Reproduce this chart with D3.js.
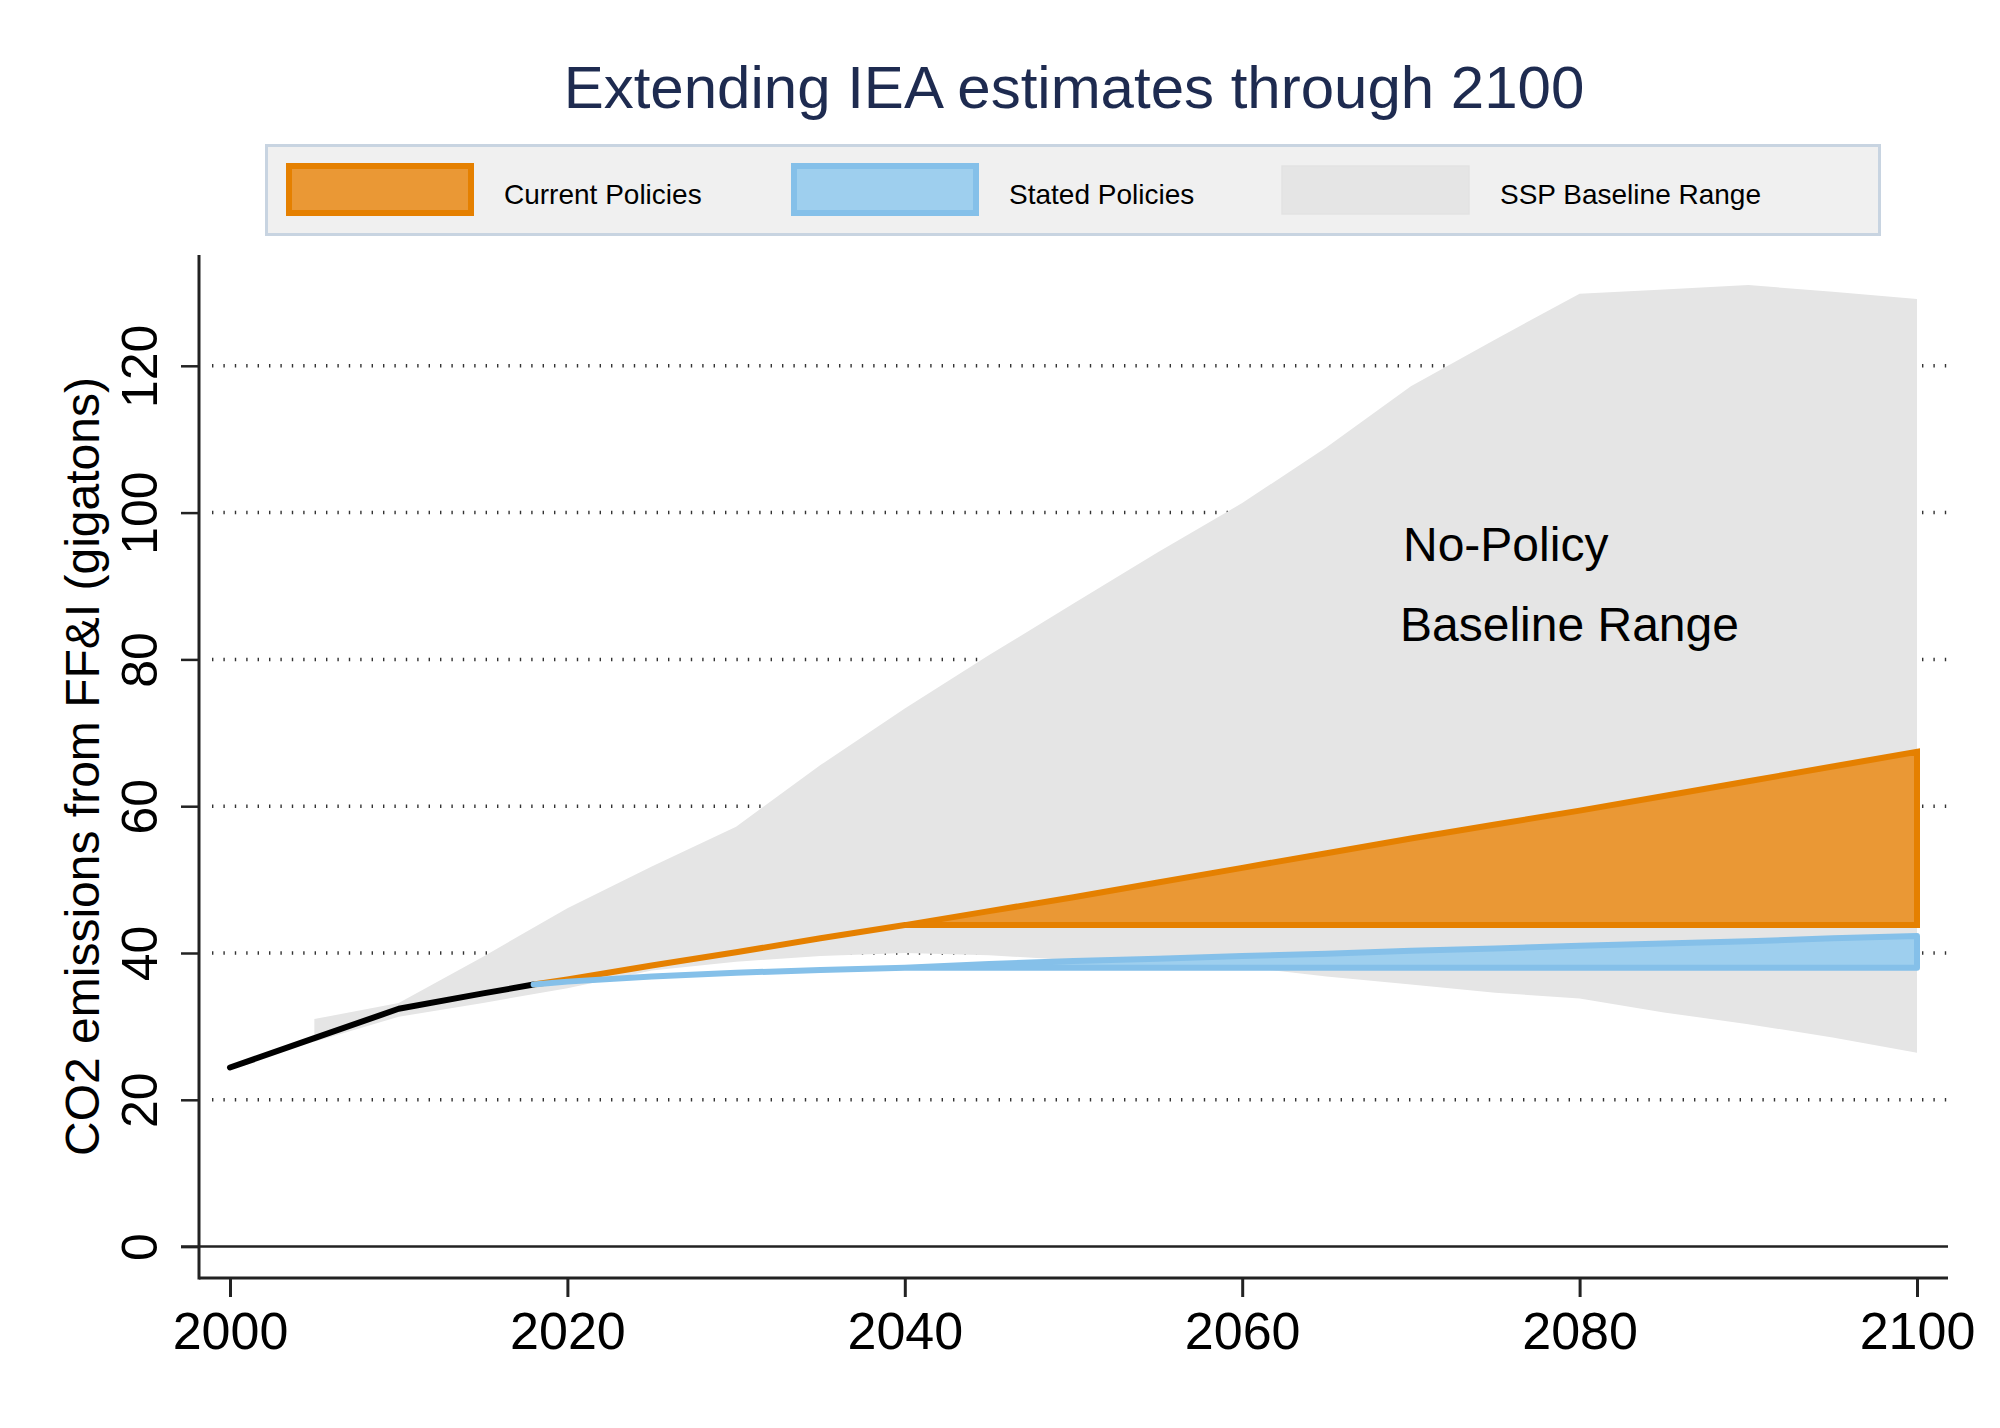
<!DOCTYPE html>
<html>
<head>
<meta charset="utf-8">
<script src="https://cdn.jsdelivr.net/npm/d3@7"></script>
<style>
  body { margin: 0; background: #fff; }
  text { font-family: "Liberation Sans", Arial, Helvetica, sans-serif; }
</style>
</head>
<body>
<script>
// data
var histYears = [2000, 2005, 2010, 2015, 2018];
var histValues = [24.4, 28.4, 32.4, 34.5, 35.7];

var projYears = [2018, 2020, 2025, 2030, 2035, 2040, 2045, 2050, 2055, 2060, 2065, 2070, 2075, 2080, 2085, 2090, 2095, 2100];
var currentHigh = [35.7, 36.4, 38.3, 40.1, 42.0, 43.8, 45.7, 47.6, 49.6, 51.6, 53.6, 55.6, 57.5, 59.4, 61.4, 63.4, 65.4, 67.4];
var currentLow = [35.7, 36.4, 38.3, 40.1, 42.0, 43.8, 43.8, 43.8, 43.8, 43.8, 43.8, 43.8, 43.8, 43.8, 43.8, 43.8, 43.8, 43.8];
var statedHigh = [35.7, 36.1, 36.8, 37.3, 37.7, 38.0, 38.5, 38.9, 39.2, 39.6, 39.9, 40.3, 40.6, 41.0, 41.3, 41.6, 42.0, 42.3];
var statedLow = [35.7, 36.1, 36.8, 37.3, 37.7, 38.0, 38.0, 38.0, 38.0, 38.0, 38.0, 38.0, 38.0, 38.0, 38.0, 38.0, 38.0, 38.0];

var sspYears = [2005, 2010, 2015, 2020, 2025, 2030, 2035, 2040, 2045, 2050, 2055, 2060, 2065, 2070, 2075, 2080, 2085, 2090, 2095, 2100];
var sspHigh = [31.0, 33.2, 39.5, 46.1, 51.8, 57.2, 65.6, 73.3, 80.6, 87.6, 94.6, 101.3, 108.9, 117.2, 123.6, 129.8, 130.4, 131.0, 130.1, 129.1];
var sspLow = [27.9, 31.3, 33.2, 35.2, 37.6, 38.8, 39.6, 40.0, 39.7, 39.0, 38.6, 38.1, 36.8, 35.7, 34.6, 33.8, 31.9, 30.3, 28.5, 26.4];

var xTicks = [2000, 2020, 2040, 2060, 2080, 2100];
var yTicks = [0, 20, 40, 60, 80, 100, 120];

var legendItems = [
  {label: 'Current Policies', fill: '#ea9835', stroke: '#e58000'},
  {label: 'Stated Policies', fill: '#9ecfee', stroke: '#85c0e9'},
  {label: 'SSP Baseline Range', fill: '#e5e5e5', stroke: '#e2e2e2'}
];

var options = {
  width: 2000,
  height: 1428,
  axisLeft: 199,
  axisRight: 1948,
  axisTop: 255,
  axisBottom: 1278
};

var svg = d3.select('body')
  .append('svg')
  .attr('width', options.width)
  .attr('height', options.height);

var x = d3.scaleLinear().domain([2000, 2100]).range([230, 1917]);
var y = d3.scaleLinear().domain([0, 120]).range([1246.6, 365.8]);

// dotted gridlines
svg.append('g')
  .selectAll('line')
  .data(yTicks.filter(function(d) { return d > 0; }))
  .enter()
    .append('line')
    .attr('x1', 212)
    .attr('x2', options.axisRight)
    .attr('y1', function(d) { return y(d); })
    .attr('y2', function(d) { return y(d); })
    .attr('stroke', '#333')
    .attr('stroke-width', 3.5)
    .attr('stroke-dasharray', '1.4 10');

// SSP range
var zip = function(years) {
  return function(d, i) { return i; };
};

var sspArea = d3.area()
  .x(function(d) { return x(sspYears[d]); })
  .y0(function(d) { return y(sspLow[d]); })
  .y1(function(d) { return y(sspHigh[d]); });

svg.append('path')
  .attr('d', sspArea(d3.range(sspYears.length)))
  .attr('fill', '#e5e5e5');

// zero line
svg.append('line')
  .attr('x1', 181).attr('x2', options.axisRight)
  .attr('y1', y(0)).attr('y2', y(0))
  .attr('stroke', '#222')
  .attr('stroke-width', 2.5);

// historic emissions
var histLine = d3.line()
  .x(function(d) { return x(histYears[d]); })
  .y(function(d) { return y(histValues[d]); });

svg.append('path')
  .attr('d', histLine(d3.range(histYears.length)))
  .attr('fill', 'none')
  .attr('stroke', '#000')
  .attr('stroke-width', 6)
  .attr('stroke-linecap', 'round')
  .attr('stroke-linejoin', 'round');

// current policies band
var currentArea = d3.area()
  .x(function(d) { return x(projYears[d]); })
  .y0(function(d) { return y(currentLow[d]); })
  .y1(function(d) { return y(currentHigh[d]); });

svg.append('path')
  .attr('d', currentArea(d3.range(projYears.length)) + 'Z')
  .attr('fill', '#ea9835')
  .attr('stroke', '#e58000')
  .attr('stroke-width', 6)
  .attr('stroke-linejoin', 'miter');

// stated policies band
var statedArea = d3.area()
  .x(function(d) { return x(projYears[d]); })
  .y0(function(d) { return y(statedLow[d]); })
  .y1(function(d) { return y(statedHigh[d]); });

svg.append('path')
  .attr('d', statedArea(d3.range(projYears.length)) + 'Z')
  .attr('fill', '#9ecfee')
  .attr('stroke', '#85c0e9')
  .attr('stroke-width', 6)
  .attr('stroke-linejoin', 'round');

// axes
svg.append('line')
  .attr('x1', options.axisLeft).attr('x2', options.axisLeft)
  .attr('y1', options.axisTop).attr('y2', options.axisBottom + 1.5)
  .attr('stroke', '#222').attr('stroke-width', 3);

svg.append('line')
  .attr('x1', options.axisLeft).attr('x2', options.axisRight)
  .attr('y1', options.axisBottom).attr('y2', options.axisBottom)
  .attr('stroke', '#222').attr('stroke-width', 3);

var yAxis = svg.append('g')
  .attr('transform', 'translate(' + options.axisLeft + ',0)')
  .call(d3.axisLeft(y).tickValues(yTicks).tickSize(18).tickFormat(d3.format('d')));

yAxis.select('.domain').remove();
yAxis.selectAll('.tick line').attr('stroke', '#222').attr('stroke-width', 2.5);
yAxis.selectAll('.tick text')
  .attr('x', null)
  .attr('dy', null)
  .attr('transform', 'translate(-42,0) rotate(-90)')
  .attr('text-anchor', 'middle')
  .attr('fill', '#000')
  .style('font-size', '50px');

var xAxis = svg.append('g')
  .attr('transform', 'translate(0,' + options.axisBottom + ')')
  .call(d3.axisBottom(x).tickValues(xTicks).tickSize(19).tickFormat(d3.format('d')));

xAxis.select('.domain').remove();
xAxis.selectAll('.tick line').attr('stroke', '#222').attr('stroke-width', 3);
xAxis.selectAll('.tick text')
  .attr('y', 71)
  .attr('dy', null)
  .attr('fill', '#000')
  .style('font-size', '52px');

// axis title
svg.append('text')
  .attr('transform', 'translate(99,' + ((options.axisTop + options.axisBottom) / 2) + ') rotate(-90)')
  .attr('text-anchor', 'middle')
  .style('font-size', '48px')
  .text('CO2 emissions from FF&I (gigatons)');

// annotation
svg.append('text')
  .attr('x', 1403).attr('y', 561)
  .style('font-size', '48px')
  .text('No-Policy');

svg.append('text')
  .attr('x', 1400).attr('y', 641)
  .style('font-size', '48px')
  .text('Baseline Range');

// title
svg.append('text')
  .attr('x', 1074).attr('y', 108)
  .attr('text-anchor', 'middle')
  .attr('fill', '#1e2b50')
  .style('font-size', '60px')
  .text('Extending IEA estimates through 2100');

// legend
svg.append('rect')
  .attr('x', 266.5).attr('y', 145.5)
  .attr('width', 1613).attr('height', 89)
  .attr('fill', '#f0f0f0')
  .attr('stroke', '#c8d4e1')
  .attr('stroke-width', 3);

var legendX = [286, 791, 1282];
var legend = svg.append('g')
  .selectAll('g')
  .data(legendItems)
  .enter()
    .append('g')
    .attr('transform', function(d, i) { return 'translate(' + legendX[i] + ',0)'; });

legend.append('rect')
  .attr('x', function(d, i) { return i < 2 ? 3 : 0; })
  .attr('y', function(d, i) { return i < 2 ? 166 : 166; })
  .attr('width', function(d, i) { return i < 2 ? 182 : 187; })
  .attr('height', function(d, i) { return i < 2 ? 47 : 48; })
  .attr('fill', function(d) { return d.fill; })
  .attr('stroke', function(d) { return d.stroke; })
  .attr('stroke-width', function(d, i) { return i < 2 ? 6 : 1.5; });

legend.append('text')
  .attr('x', 218)
  .attr('y', 204)
  .style('font-size', '28px')
  .text(function(d) { return d.label; });
</script>
</body>
</html>
